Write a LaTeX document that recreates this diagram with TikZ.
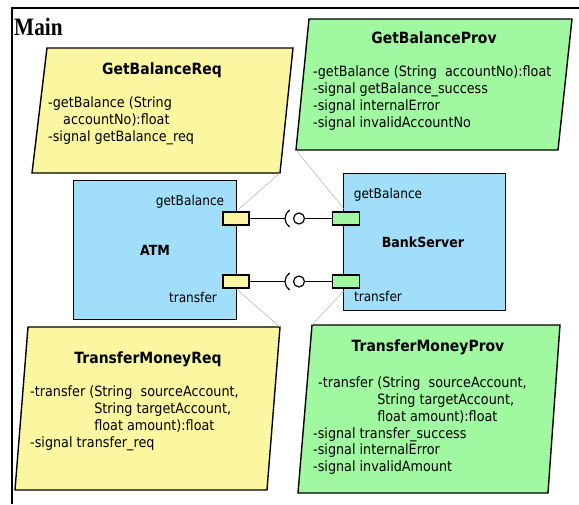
\documentclass[tikz,border=0pt]{standalone}
\usepackage{fontspec}
\usepackage{xcolor}
\newfontfamily\umlfont[FakeStretch=0.9]{DejaVu Sans}
\newfontfamily\framefont[FakeStretch=0.85]{Liberation Serif}
\definecolor{reqyellow}{RGB}{250,247,160}
\definecolor{provgreen}{RGB}{160,248,160}
\definecolor{compblue}{RGB}{160,222,250}
\tikzset{
  notebox/.style={draw=black,line width=1.4pt,line join=miter},
  compbox/.style={draw=black,line width=1.3pt,fill=compblue,inner sep=0pt},
  reqport/.style={draw=black,line width=1.2pt,fill=reqyellow,inner sep=0pt,minimum width=26pt,minimum height=13pt},
  provport/.style={draw=black,line width=1.2pt,fill=provgreen,inner sep=0pt,minimum width=27pt,minimum height=13pt},
  ball/.style={draw=black,line width=1.2pt,circle,inner sep=0pt,minimum size=11pt},
  wire/.style={draw=black,line width=1.2pt},
  attach/.style={draw=gray!60,line width=0.5pt},
  notetitle/.style={font=\umlfont\bfseries\fontsize{15.5}{18}\selectfont,inner sep=0pt},
  notebody/.style={font=\umlfont\fontsize{14.2}{16.7}\selectfont,align=left,anchor=north west,inner sep=0pt},
  portlabel/.style={font=\umlfont\fontsize{13.5}{16}\selectfont,inner sep=0pt},
  compname/.style={font=\umlfont\bfseries\fontsize{14}{16}\selectfont,inner sep=0pt}
}
\begin{document}
\begin{tikzpicture}[x=1pt,y=-1pt]
\useasboundingbox (0,0) rectangle (579,504);
\fill[white] (0,0) rectangle (579,504);
\draw[line width=1.6pt] (12,504) -- (12,8) -- (579,8);
\node[anchor=base west,font=\framefont\bfseries\fontsize{25}{27}\selectfont,inner sep=0pt] (main) at (14,35) {Main};

\coordinate (gbr-tl) at (47,48);
\coordinate (gbr-tr) at (293,48);
\coordinate (gbr-br) at (280,173);
\coordinate (gbr-bl) at (32,173);
\draw[notebox,fill=reqyellow] (gbr-tl) -- (gbr-tr) -- (gbr-br) -- (gbr-bl) -- cycle;
\node[notetitle] (gbr-title) at (162,70) {GetBalanceReq};
\node[notebody] (gbr-body) at (48,97) {-getBalance (String\\\hspace{15pt}accountNo):float\\-signal getBalance\_req};

\coordinate (gbp-tl) at (309,19);
\coordinate (gbp-tr) at (572,19);
\coordinate (gbp-br) at (558,150);
\coordinate (gbp-bl) at (296,150);
\draw[notebox,fill=provgreen] (gbp-tl) -- (gbp-tr) -- (gbp-br) -- (gbp-bl) -- cycle;
\node[notetitle] (gbp-title) at (434,38) {GetBalanceProv};
\node[notebody] (gbp-body) at (313,66) {-getBalance (String\ \ accountNo):float\\-signal getBalance\_success\\-signal internalError\\-signal invalidAccountNo};

\coordinate (tmr-tl) at (28,327);
\coordinate (tmr-tr) at (280,327);
\coordinate (tmr-br) at (267,490);
\coordinate (tmr-bl) at (15,490);
\draw[notebox,fill=reqyellow] (tmr-tl) -- (tmr-tr) -- (tmr-br) -- (tmr-bl) -- cycle;
\node[notetitle] (tmr-title) at (148,359) {TransferMoneyReq};
\node[notebody] (tmr-body) at (30,386) {-transfer (String\ \ sourceAccount,\\\phantom{-transfer (}String targetAccount,\\\phantom{-transfer (}float amount):float\\-signal transfer\_req};

\coordinate (tmp-tl) at (312,325);
\coordinate (tmp-tr) at (560,325);
\coordinate (tmp-br) at (548,493);
\coordinate (tmp-bl) at (298,493);
\draw[notebox,fill=provgreen] (tmp-tl) -- (tmp-tr) -- (tmp-br) -- (tmp-bl) -- cycle;
\node[notetitle] (tmp-title) at (428,347) {TransferMoneyProv};
\node[notebody] (tmp-body) at (313,377) {\hspace{5pt}-transfer (String\ \ sourceAccount,\\\phantom{-transfer (}String targetAccount,\\\phantom{-transfer (}float amount):float\\-signal transfer\_success\\-signal internalError\\-signal invalidAmount};

\node[compbox,anchor=north west,minimum width=163pt,minimum height=139pt] (atm) at (73,180) {};
\node[compname] (atm-name) at (155,250) {ATM};
\node[portlabel] (atm-gb-label) at (190,202) {getBalance};
\node[portlabel] (atm-tr-label) at (193,297) {transfer};
\node[reqport] (atm-gb) at (236,218.5) {};
\node[reqport] (atm-tr) at (236,281.5) {};

\node[compbox,anchor=north west,minimum width=162pt,minimum height=137pt] (bank) at (343,173) {};
\node[compname] (bank-name) at (423,242) {BankServer};
\node[portlabel] (bank-gb-label) at (388,195) {getBalance};
\node[portlabel] (bank-tr-label) at (378,296) {transfer};
\node[provport] (bank-gb) at (346,218.5) {};
\node[provport] (bank-tr) at (346,281.5) {};

\coordinate (gb-socket) at (285,218.5);
\node[ball] (gb-ball) at (299,218.5) {};
\draw[wire] (atm-gb) -- (gb-socket);
\draw[wire] (gb-socket) arc[start angle=180,end angle=122,radius=10] (gb-socket) arc[start angle=180,end angle=238,radius=10];
\draw[wire] (gb-ball) -- (bank-gb);

\coordinate (tr-socket) at (285,281.5);
\node[ball] (tr-ball) at (299,281.5) {};
\draw[wire] (atm-tr) -- (tr-socket);
\draw[wire] (tr-socket) arc[start angle=180,end angle=122,radius=10] (tr-socket) arc[start angle=180,end angle=238,radius=10];
\draw[wire] (tr-ball) -- (bank-tr);

\draw[attach,shorten >=3pt] (gbr-br) -- (atm-gb.north);
\draw[attach,shorten >=3pt] (gbp-bl) -- (bank-gb.north);
\draw[attach,shorten >=3pt] (tmr-tr) -- (atm-tr.south);
\draw[attach,shorten >=3pt] (tmp-tl) -- (bank-tr.south);
\end{tikzpicture}
\end{document}
